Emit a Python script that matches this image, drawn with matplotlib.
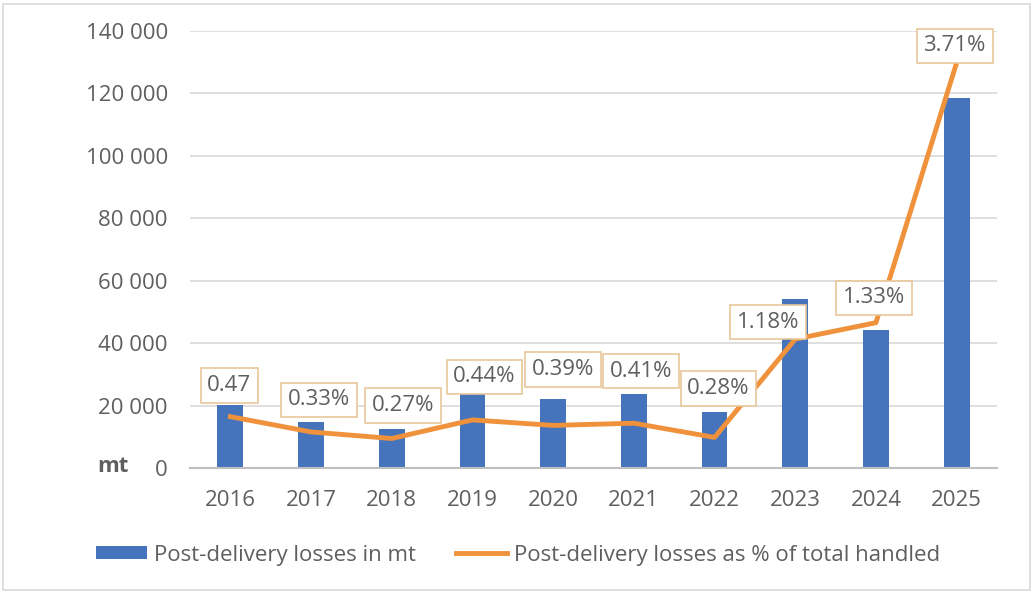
import matplotlib
matplotlib.use("Agg")
import matplotlib.pyplot as plt
from matplotlib.patches import Patch, Rectangle
from matplotlib.lines import Line2D
from matplotlib.ticker import FuncFormatter, MultipleLocator

years = ["2016", "2017", "2018", "2019", "2020", "2021", "2022", "2023", "2024", "2025"]
losses_mt = [20300, 14800, 12500, 24000, 22100, 23700, 17900, 54300, 44200, 118600]
losses_pct = [0.47, 0.33, 0.27, 0.44, 0.39, 0.41, 0.28, 1.18, 1.33, 3.71]
pct_labels = ["0.47", "0.33%", "0.27%", "0.44%", "0.39%", "0.41%", "0.28%", "1.18%", "1.33%", "3.71%"]

# label box offsets (pixels from point to box centre)
label_offsets = [(-1, 31), (8, 32), (11, 33), (12, 43), (10, 56), (7, 52), (4, 49), (-27, 17), (-2, 25), (-2, 17)]

TXT = "#5f5f5f"
BLUE = "#4674BC"
ORANGE = "#F0913C"
plt.rcParams["font.family"] = ["Open Sans", "DejaVu Sans"]
FS = 16

fig = plt.figure(figsize=(10.33, 5.92), dpi=100)
fig.patches.append(Rectangle((0.003, 0.004), 0.994, 0.99, transform=fig.transFigure,
                             fill=False, edgecolor="#d9d9d9", lw=1.2))

ax = fig.add_axes([190/1033, 1-468/592, (997-190)/1033, (468-31)/592])
x = list(range(len(years)))
ax.bar(x, losses_mt, width=0.32, color=BLUE, zorder=2)
ax.set_xlim(-0.5, len(years)-0.5)
ax.set_ylim(0, 140000)
ax.yaxis.set_major_locator(MultipleLocator(20000))
ax.yaxis.set_major_formatter(FuncFormatter(lambda v, p: f"{int(v):,}".replace(",", " ")))
ax.grid(axis="y", color="#d9d9d9", lw=1.2, zorder=0)
ax.set_axisbelow(True)
for s in ["top", "right", "left"]:
    ax.spines[s].set_visible(False)
ax.spines["bottom"].set_color("#bfbfbf")
ax.spines["bottom"].set_linewidth(1.5)
ax.set_xticks(x)
ax.set_xticklabels(years)
ax.tick_params(axis="both", length=0, labelsize=FS, labelcolor=TXT)
ax.tick_params(axis="y", pad=16)
ax.tick_params(axis="x", pad=16)

ax2 = ax.twinx()
ax2.set_ylim(0, 4)
ax2.axis("off")
ax2.plot(x, losses_pct, color=ORANGE, lw=3.5, solid_joinstyle="round", zorder=3)
for xi, yi, lab, (dx, dy) in zip(x, losses_pct, pct_labels, label_offsets):
    ax2.annotate(lab, (xi, yi), xytext=(dx, dy), textcoords="offset pixels",
                 ha="center", va="center", fontsize=FS, color=TXT, zorder=5,
                 bbox=dict(boxstyle="square,pad=0.3", fc="white", ec="#E9C79C", lw=1.2),
                 annotation_clip=False)

fig.text(113/1033, 1-467/592, "mt", fontsize=FS, fontweight="bold", color=TXT,
         ha="center", va="center")

handles = [Patch(facecolor=BLUE, edgecolor="none"),
           Line2D([0], [0], color=ORANGE, lw=3.5)]
leg = fig.legend(handles, ["Post-delivery losses in mt", "Post-delivery losses as % of total handled"],
                 loc="center", bbox_to_anchor=(518/1033, 1-555/592), ncol=2, frameon=False,
                 fontsize=FS, handlelength=2.3, handleheight=0.55, handletextpad=0.3,
                 columnspacing=1.8)
for t in leg.get_texts():
    t.set_color(TXT)

fig.savefig("out.png", dpi=100, facecolor="white")
